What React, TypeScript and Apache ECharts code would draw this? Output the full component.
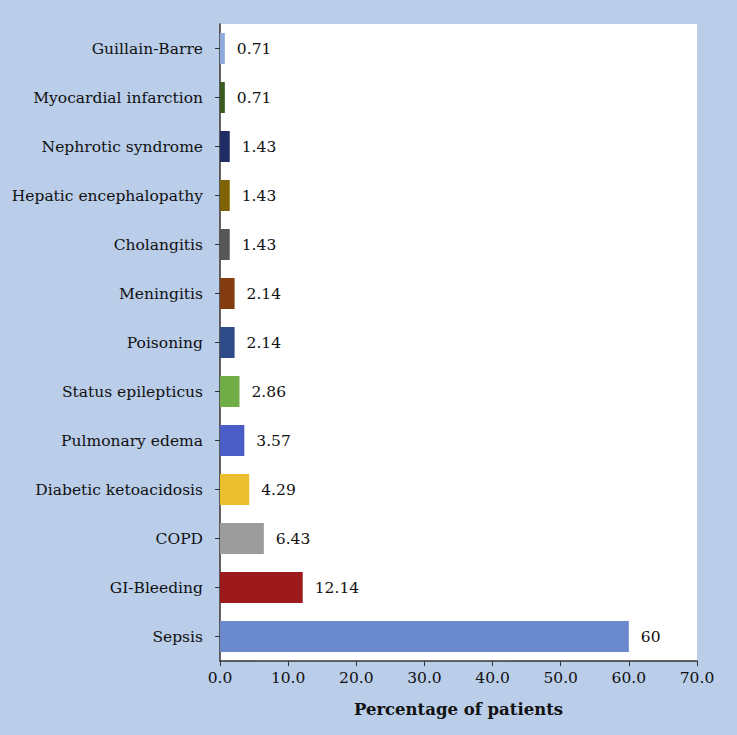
import React, { useEffect, useRef } from "react";
import * as echarts from "echarts";

const categories = [
  "Guillain-Barre",
  "Myocardial infarction",
  "Nephrotic syndrome",
  "Hepatic encephalopathy",
  "Cholangitis",
  "Meningitis",
  "Poisoning",
  "Status epilepticus",
  "Pulmonary edema",
  "Diabetic ketoacidosis",
  "COPD",
  "GI-Bleeding",
  "Sepsis",
];
const values = [0.71, 0.71, 1.43, 1.43, 1.43, 2.14, 2.14, 2.86, 3.57, 4.29, 6.43, 12.14, 60];
const barColors = [
  "#8faadc",
  "#3b5a1f",
  "#1f2c66",
  "#7f6204",
  "#575757",
  "#833c10",
  "#2e4a88",
  "#70ad47",
  "#4a5cc6",
  "#ecbf2f",
  "#9c9c9c",
  "#9c1a1c",
  "#6a8acd",
];
const valueLabels = ["0.71", "0.71", "1.43", "1.43", "1.43", "2.14", "2.14", "2.86", "3.57", "4.29", "6.43", "12.14", "60"];
const xTicks = { min: 0, max: 70, interval: 10 };
const xTitle = "Percentage of patients";

const FONT = "DejaVu Serif";
const TXT = "#111111";

export default function App() {
  const ref = useRef<HTMLDivElement>(null);
  useEffect(() => {
    if (!ref.current) return;
    const chart = echarts.init(ref.current, null, { renderer: "svg" });
    chart.setOption({
      animation: false,
      backgroundColor: "#bacde9",
      textStyle: { fontFamily: FONT },
      grid: {
        left: 220,
        right: 40,
        top: 24,
        bottom: 74,
        show: true,
        backgroundColor: "#ffffff",
        borderWidth: 0,
      },
      xAxis: {
        type: "value",
        min: xTicks.min,
        max: xTicks.max,
        interval: xTicks.interval,
        splitLine: { show: false },
        axisLine: { show: true, lineStyle: { color: "#333", width: 1.5 } },
        axisTick: { show: true, length: 5, lineStyle: { color: "#333" } },
        axisLabel: {
          color: TXT,
          fontFamily: FONT,
          fontSize: 15.5,
          margin: 9,
          formatter: (v: number) => v.toFixed(1),
        },
        name: xTitle,
        nameLocation: "middle",
        nameGap: 40,
        nameTextStyle: { fontFamily: FONT, fontWeight: "bold", fontSize: 16.5, color: TXT },
      },
      yAxis: {
        type: "category",
        inverse: true,
        data: categories,
        axisLine: { show: true, lineStyle: { color: "#333", width: 1.5 } },
        axisTick: { show: true, alignWithLabel: true, length: 5, lineStyle: { color: "#333" } },
        axisLabel: { color: TXT, fontFamily: FONT, fontSize: 15.5, margin: 17 },
      },
      series: [
        {
          type: "bar",
          barWidth: 31,
          data: values.map((v, i) => ({ value: v, itemStyle: { color: barColors[i] } })),
          label: {
            show: true,
            position: "right",
            distance: 12,
            color: TXT,
            fontFamily: FONT,
            fontSize: 15.5,
            formatter: (p: any) => valueLabels[p.dataIndex],
          },
        },
      ],
    });
    return () => chart.dispose();
  }, []);
  return <div ref={ref} style={{ width: 737, height: 735, position: "absolute", left: 0, top: 0 }} />;
}
